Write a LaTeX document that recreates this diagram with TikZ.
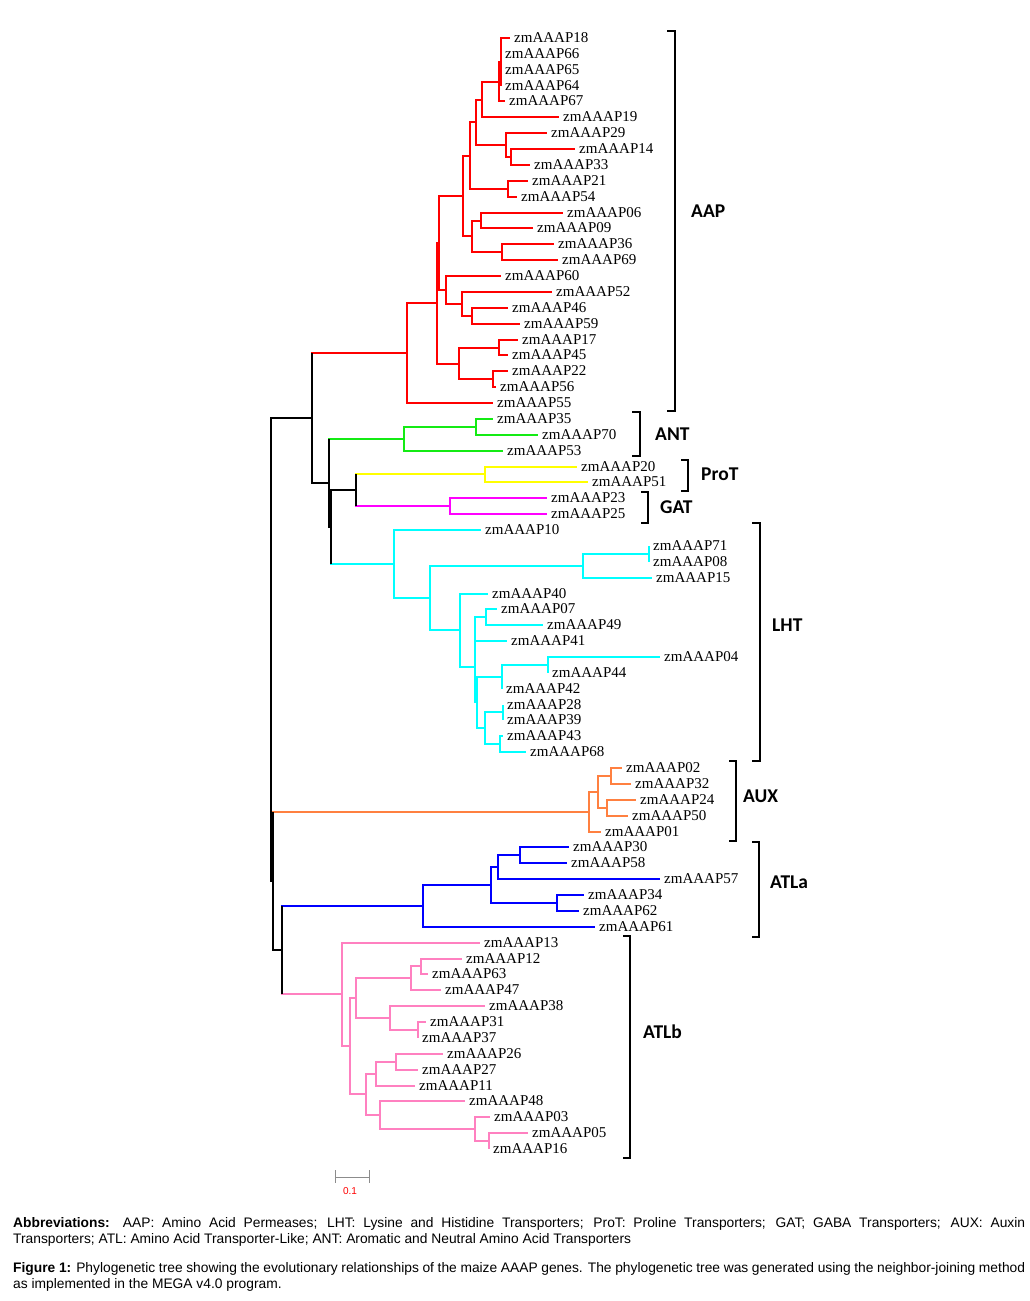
\documentclass[tikz,border=0pt]{standalone}
\usepackage{fontspec}
\setmainfont{Liberation Serif}
\setsansfont{Liberation Sans}
\newfontfamily\grpfont{Carlito}
\newcommand\leaffont{\fontsize{15}{16}\selectfont}
\definecolor{aapred}{RGB}{255,0,0}
\definecolor{antgreen}{RGB}{20,235,20}
\definecolor{protyellow}{RGB}{255,255,0}
\definecolor{gatmag}{RGB}{255,0,255}
\definecolor{lhtcyan}{RGB}{0,255,255}
\definecolor{auxorange}{RGB}{255,128,64}
\definecolor{atlablue}{RGB}{0,0,255}
\definecolor{atlbpink}{RGB}{255,128,192}
\definecolor{bargray}{RGB}{140,140,140}

\begin{document}
\begin{tikzpicture}[x=1pt, y=-1pt,
    br/.style={line width=1.8pt},
    bk/.style={br, black},
    aapc/.style={br, aapred},
    antc/.style={br, antgreen},
    protc/.style={br, protyellow},
    gatc/.style={br, gatmag},
    lhtc/.style={br, lhtcyan},
    auxc/.style={br, auxorange},
    atlac/.style={br, atlablue},
    atlbc/.style={br, atlbpink},
    leaf/.style={anchor=west, inner xsep=4pt, inner ysep=0pt, font=\leaffont},
    grp/.style={anchor=west, inner sep=0pt, font=\grpfont\bfseries\fontsize{19.5}{20}\selectfont},
    brk/.style={line width=1.8pt, black},
    capt/.style={anchor=north west, text width=1012pt, align=justify, inner sep=0pt, font=\sffamily\fontsize{13.8}{16}\selectfont}]
    \useasboundingbox (0,0) rectangle (1030,1301);

    % leaves (branch end, row)
    \node[leaf] (z18) at (510,38) {zmAAAP18};
    \node[leaf] (z66) at (501,54) {zmAAAP66};
    \node[leaf] (z65) at (501,70) {zmAAAP65};
    \node[leaf] (z64) at (501,86) {zmAAAP64};
    \node[leaf] (z67) at (505,101) {zmAAAP67};
    \node[leaf] (z19) at (559,117) {zmAAAP19};
    \node[leaf] (z29) at (547,133) {zmAAAP29};
    \node[leaf] (z14) at (575,149) {zmAAAP14};
    \node[leaf] (z33) at (530,165) {zmAAAP33};
    \node[leaf] (z21) at (528,181) {zmAAAP21};
    \node[leaf] (z54) at (517,197) {zmAAAP54};
    \node[leaf] (z06) at (563,213) {zmAAAP06};
    \node[leaf] (z09) at (533,228) {zmAAAP09};
    \node[leaf] (z36) at (554,244) {zmAAAP36};
    \node[leaf] (z69) at (558,260) {zmAAAP69};
    \node[leaf] (z60) at (501,276) {zmAAAP60};
    \node[leaf] (z52) at (552,292) {zmAAAP52};
    \node[leaf] (z46) at (508,308) {zmAAAP46};
    \node[leaf] (z59) at (520,324) {zmAAAP59};
    \node[leaf] (z17) at (518,340) {zmAAAP17};
    \node[leaf] (z45) at (508,355) {zmAAAP45};
    \node[leaf] (z22) at (508,371) {zmAAAP22};
    \node[leaf] (z56) at (496,387) {zmAAAP56};
    \node[leaf] (z55) at (493,403) {zmAAAP55};
    \node[leaf] (z35) at (493,419) {zmAAAP35};
    \node[leaf] (z70) at (538,435) {zmAAAP70};
    \node[leaf] (z53) at (503,451) {zmAAAP53};
    \node[leaf] (z20) at (577,467) {zmAAAP20};
    \node[leaf] (z51) at (588,482) {zmAAAP51};
    \node[leaf] (z23) at (547,498) {zmAAAP23};
    \node[leaf] (z25) at (547,514) {zmAAAP25};
    \node[leaf] (z10) at (481,530) {zmAAAP10};
    \node[leaf] (z71) at (649,546) {zmAAAP71};
    \node[leaf] (z08) at (649,562) {zmAAAP08};
    \node[leaf] (z15) at (652,578) {zmAAAP15};
    \node[leaf] (z40) at (488,594) {zmAAAP40};
    \node[leaf] (z07) at (497,609) {zmAAAP07};
    \node[leaf] (z49) at (543,625) {zmAAAP49};
    \node[leaf] (z41) at (507,641) {zmAAAP41};
    \node[leaf] (z04) at (660,657) {zmAAAP04};
    \node[leaf] (z44) at (548,673) {zmAAAP44};
    \node[leaf] (z42) at (502,689) {zmAAAP42};
    \node[leaf] (z28) at (503,705) {zmAAAP28};
    \node[leaf] (z39) at (503,720) {zmAAAP39};
    \node[leaf] (z43) at (503,736) {zmAAAP43};
    \node[leaf] (z68) at (526,752) {zmAAAP68};
    \node[leaf] (z02) at (622,768) {zmAAAP02};
    \node[leaf] (z32) at (631,784) {zmAAAP32};
    \node[leaf] (z24) at (636,800) {zmAAAP24};
    \node[leaf] (z50) at (628,816) {zmAAAP50};
    \node[leaf] (z01) at (601,832) {zmAAAP01};
    \node[leaf] (z30) at (569,847) {zmAAAP30};
    \node[leaf] (z58) at (567,863) {zmAAAP58};
    \node[leaf] (z57) at (660,879) {zmAAAP57};
    \node[leaf] (z34) at (584,895) {zmAAAP34};
    \node[leaf] (z62) at (579,911) {zmAAAP62};
    \node[leaf] (z61) at (595,927) {zmAAAP61};
    \node[leaf] (z13) at (480,943) {zmAAAP13};
    \node[leaf] (z12) at (462,959) {zmAAAP12};
    \node[leaf] (z63) at (428,974) {zmAAAP63};
    \node[leaf] (z47) at (441,990) {zmAAAP47};
    \node[leaf] (z38) at (485,1006) {zmAAAP38};
    \node[leaf] (z31) at (426,1022) {zmAAAP31};
    \node[leaf] (z37) at (418,1038) {zmAAAP37};
    \node[leaf] (z26) at (443,1054) {zmAAAP26};
    \node[leaf] (z27) at (418,1070) {zmAAAP27};
    \node[leaf] (z11) at (415,1086) {zmAAAP11};
    \node[leaf] (z48) at (465,1101) {zmAAAP48};
    \node[leaf] (z03) at (490,1117) {zmAAAP03};
    \node[leaf] (z05) at (528,1133) {zmAAAP05};
    \node[leaf] (z16) at (489,1149) {zmAAAP16};

    % inner nodes
    \coordinate (a1) at (501,62);   \coordinate (a2) at (499,82);
    \coordinate (a3) at (482,100);  \coordinate (a4) at (476,122);
    \coordinate (a5) at (506,145);  \coordinate (a6) at (511,157);
    \coordinate (a7) at (470,156);  \coordinate (a8) at (508,189);
    \coordinate (a9) at (463,196);  \coordinate (a10) at (472,236);
    \coordinate (a11) at (481,221); \coordinate (a12) at (502,252);
    \coordinate (a13) at (439,243); \coordinate (a14) at (446,290);
    \coordinate (a15) at (437,303); \coordinate (a16) at (459,364);
    \coordinate (a17) at (462,304); \coordinate (a18) at (472,316);
    \coordinate (a19) at (499,348); \coordinate (a20) at (493,379);
    \coordinate (aap) at (407,353);
    \coordinate (g1) at (476,427);  \coordinate (ant) at (404,439);
    \coordinate (prot) at (485,474); \coordinate (gat) at (450,506);
    \coordinate (pg) at (356,490);
    \coordinate (l1) at (649,554);  \coordinate (l2) at (583,566);
    \coordinate (l3) at (486,617);  \coordinate (l4) at (548,665);
    \coordinate (l5) at (502,677);  \coordinate (l6) at (503,712);
    \coordinate (l7) at (500,744);  \coordinate (l8) at (485,728);
    \coordinate (l9) at (477,702);  \coordinate (l10) at (475,667);
    \coordinate (l11) at (460,630); \coordinate (l12) at (430,598);
    \coordinate (lht) at (394,564);
    \coordinate (ny) at (331,527);  \coordinate (nx) at (329,483);
    \coordinate (nt) at (312,418);
    \coordinate (x1) at (611,776);  \coordinate (x2) at (607,808);
    \coordinate (x3) at (598,792);  \coordinate (aux) at (589,812);
    \coordinate (b1) at (520,855);  \coordinate (b2) at (498,867);
    \coordinate (b3) at (557,903);  \coordinate (b4) at (491,885);
    \coordinate (atla) at (423,906);
    \coordinate (k1) at (421,966);  \coordinate (k2) at (411,978);
    \coordinate (k3) at (418,1030); \coordinate (k4) at (390,1018);
    \coordinate (k5) at (356,998);  \coordinate (k6) at (396,1062);
    \coordinate (k7) at (376,1074); \coordinate (k8) at (489,1141);
    \coordinate (k9) at (475,1129); \coordinate (k10) at (380,1115);
    \coordinate (k11) at (366,1094); \coordinate (k12) at (350,1046);
    \coordinate (atlb) at (342,994);
    \coordinate (atl) at (282,950); \coordinate (nm) at (273,881);
    \coordinate (root) at (271,650);

    % AAP
    \draw[aapc] (a1) |- (z18) (a1) |- (z66) (a1) |- (z65) (a1) |- (z64);
    \draw[aapc] (a2) |- (a1) (a2) |- (z67);
    \draw[aapc] (a3) |- (a2) (a3) |- (z19);
    \draw[aapc] (a6) |- (z14) (a6) |- (z33);
    \draw[aapc] (a5) |- (z29) (a5) |- (a6);
    \draw[aapc] (a4) |- (a3) (a4) |- (a5);
    \draw[aapc] (a8) |- (z21) (a8) |- (z54);
    \draw[aapc] (a7) |- (a4) (a7) |- (a8);
    \draw[aapc] (a11) |- (z06) (a11) |- (z09);
    \draw[aapc] (a12) |- (z36) (a12) |- (z69);
    \draw[aapc] (a10) |- (a11) (a10) |- (a12);
    \draw[aapc] (a9) |- (a7) (a9) |- (a10);
    \draw[aapc] (a18) |- (z46) (a18) |- (z59);
    \draw[aapc] (a17) |- (z52) (a17) |- (a18);
    \draw[aapc] (a14) |- (z60) (a14) |- (a17);
    \draw[aapc] (a13) |- (a9) (a13) |- (a14);
    \draw[aapc] (a19) |- (z17) (a19) |- (z45);
    \draw[aapc] (a20) |- (z22) (a20) |- (z56);
    \draw[aapc] (a16) |- (a19) (a16) |- (a20);
    \draw[aapc] (a15) |- (a13) (a15) |- (a16);
    \draw[aapc] (aap) |- (a15) (aap) |- (z55);
    \draw[aapc] (nt) |- (aap);
    % ANT, ProT, GAT
    \draw[antc] (g1) |- (z35) (g1) |- (z70);
    \draw[antc] (ant) |- (g1) (ant) |- (z53);
    \draw[antc] (nx) |- (ant);
    \draw[protc] (prot) |- (z20) (prot) |- (z51);
    \draw[protc] (pg) |- (prot);
    \draw[gatc] (gat) |- (z23) (gat) |- (z25);
    \draw[gatc] (pg) |- (gat);
    % LHT
    \draw[lhtc] (l1) |- (z71) (l1) |- (z08);
    \draw[lhtc] (l2) |- (l1) (l2) |- (z15);
    \draw[lhtc] (l3) |- (z07) (l3) |- (z49);
    \draw[lhtc] (l4) |- (z04) (l4) |- (z44);
    \draw[lhtc] (l5) |- (l4) (l5) |- (z42);
    \draw[lhtc] (l6) |- (z28) (l6) |- (z39);
    \draw[lhtc] (l7) |- (z43) (l7) |- (z68);
    \draw[lhtc] (l8) |- (l6) (l8) |- (l7);
    \draw[lhtc] (l9) |- (l5) (l9) |- (l8);
    \draw[lhtc] (l10) |- (l3) (l10) |- (z41) (l10) |- (l9);
    \draw[lhtc] (l11) |- (z40) (l11) |- (l10);
    \draw[lhtc] (l12) |- (l2) (l12) |- (l11);
    \draw[lhtc] (lht) |- (z10) (lht) |- (l12);
    \draw[lhtc] (ny) |- (lht);
    % AUX
    \draw[auxc] (x1) |- (z02) (x1) |- (z32);
    \draw[auxc] (x2) |- (z24) (x2) |- (z50);
    \draw[auxc] (x3) |- (x1) (x3) |- (x2);
    \draw[auxc] (aux) |- (x3) (aux) |- (z01);
    \draw[auxc] (nm) |- (aux);
    % ATLa
    \draw[atlac] (b1) |- (z30) (b1) |- (z58);
    \draw[atlac] (b2) |- (b1) (b2) |- (z57);
    \draw[atlac] (b3) |- (z34) (b3) |- (z62);
    \draw[atlac] (b4) |- (b2) (b4) |- (b3);
    \draw[atlac] (atla) |- (b4) (atla) |- (z61);
    \draw[atlac] (atl) |- (atla);
    % ATLb
    \draw[atlbc] (k1) |- (z12) (k1) |- (z63);
    \draw[atlbc] (k2) |- (k1) (k2) |- (z47);
    \draw[atlbc] (k3) |- (z31) (k3) |- (z37);
    \draw[atlbc] (k4) |- (z38) (k4) |- (k3);
    \draw[atlbc] (k5) |- (k2) (k5) |- (k4);
    \draw[atlbc] (k6) |- (z26) (k6) |- (z27);
    \draw[atlbc] (k7) |- (k6) (k7) |- (z11);
    \draw[atlbc] (k8) |- (z05) (k8) |- (z16);
    \draw[atlbc] (k9) |- (z03) (k9) |- (k8);
    \draw[atlbc] (k10) |- (z48) (k10) |- (k9);
    \draw[atlbc] (k11) |- (k7) (k11) |- (k10);
    \draw[atlbc] (k12) |- (k5) (k12) |- (k11);
    \draw[atlbc] (atlb) |- (z13) (atlb) |- (k12);
    \draw[atlbc] (atl) |- (atlb);
    % backbone
    \draw[bk] (root) |- (nt) (root) |- (nm);
    \draw[bk] (nx) |- (ny) (ny) |- (pg);
    \draw[bk] (nt) |- (nx) (nm) |- (atl);
    \draw[bk] (nt |- aap) -- (nt |- nx);
    \draw[bk] (nx |- ant) -- (nx |- ny);
    \draw[bk] (ny |- pg) -- (ny |- lht);
    \draw[bk] (pg |- prot) -- (pg |- gat);
    \draw[bk] (nm |- aux) -- (nm |- atl);
    \draw[bk] (atl |- atla) -- (atl |- atlb);

    % brackets and group names
    \draw[brk] (667,31) -- (675,31) -- (675,411) -- (667,411);
    \draw[brk] (632,412) -- (640,412) -- (640,456) -- (632,456);
    \draw[brk] (681,460) -- (688,460) -- (688,491) -- (681,491);
    \draw[brk] (641,492) -- (648,492) -- (648,523) -- (641,523);
    \draw[brk] (752,523) -- (760,523) -- (760,761) -- (752,761);
    \draw[brk] (729,761) -- (736,761) -- (736,841) -- (729,841);
    \draw[brk] (752,842) -- (759,842) -- (759,937) -- (752,937);
    \draw[brk] (623,936) -- (630,936) -- (630,1158) -- (623,1158);
    \node[grp] (gAAP) at (691,211) {AAP};
    \node[grp] (gANT) at (655,434) {ANT};
    \node[grp] (gProT) at (701,474) {ProT};
    \node[grp] (gGAT) at (660,507) {GAT};
    \node[grp] (gLHT) at (772,625) {LHT};
    \node[grp] (gAUX) at (743,796) {AUX};
    \node[grp] (gATLa) at (770,882) {ATLa};
    \node[grp] (gATLb) at (643,1032) {ATLb};

    % scale bar
    \draw[bargray, line width=1pt] (335,1170) -- (335,1183) (335,1177) -- (369,1177) (369,1170) -- (369,1183);
    \node[red, inner sep=0pt, font=\sffamily\fontsize{10}{12}\selectfont] (sbar) at (350,1191) {0.1};

    % caption
    \node[capt] (abbr) at (13,1217) {\textbf{Abbreviations:} AAP: Amino Acid Permeases; LHT: Lysine and Histidine Transporters; ProT: Proline Transporters; GAT; GABA Transporters; AUX: Auxin\linebreak Transporters; ATL: Amino Acid Transporter-Like; ANT: Aromatic and Neutral Amino Acid Transporters};
    \node[capt] (fig) at (13,1262) {\textbf{Figure 1:} Phylogenetic tree showing the evolutionary relationships of the maize AAAP genes. The phylogenetic tree was generated using the neighbor-joining method\linebreak as implemented in the MEGA v4.0 program.};
\end{tikzpicture}
\end{document}
